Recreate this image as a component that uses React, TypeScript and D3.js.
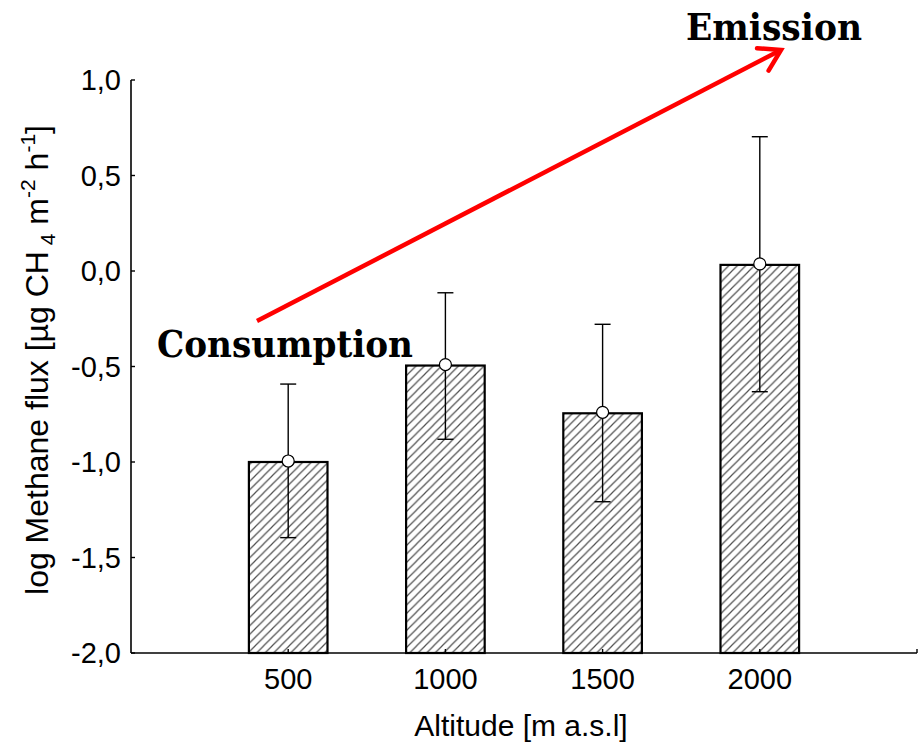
import React from "react";
import * as d3 from "d3";

const altitudes = [500, 1000, 1500, 2000];
const xTicks = [500, 1000, 1500, 2000, 2500];
const means = [-1.0, -0.495, -0.745, 0.032];
const errUpper = [-0.592, -0.114, -0.279, 0.703];
const errLower = [-1.396, -0.881, -1.208, -0.632];
const yTicks = [1.0, 0.5, 0.0, -0.5, -1.0, -1.5, -2.0];
const arrowFrom = { x: 257, y: 321 };
const arrowTo = { x: 781, y: 50 };

const W = 922;
const H = 745;
const x0 = 131;
const x1 = 917;
const yTop = 80;
const yBot = 653;

export default function App() {
  const x = d3.scaleLinear().domain([0, 2500]).range([x0, x1]);
  const y = d3.scaleLinear().domain([-2, 1]).range([yBot, yTop]);
  const barW = x(250) - x(0);
  const fmt = (v: number) => v.toFixed(1).replace(".", ",").replace("-0,0", "0,0");
  const font = "Arial, 'Liberation Sans', sans-serif";

  const ang = Math.atan2(arrowTo.y - arrowFrom.y, arrowTo.x - arrowFrom.x);
  const headLen = 24;
  const headAng = 0.55;
  const h1 = {
    x: arrowTo.x - headLen * Math.cos(ang - headAng),
    y: arrowTo.y - headLen * Math.sin(ang - headAng),
  };
  const h2 = {
    x: arrowTo.x - headLen * Math.cos(ang + headAng),
    y: arrowTo.y - headLen * Math.sin(ang + headAng),
  };

  return (
    <svg
      width={W}
      height={H}
      style={{ position: "absolute", left: 0, top: 0, background: "#fff" }}
    >
      <defs>
        <pattern id="hatch" patternUnits="userSpaceOnUse" width={8.5} height={8.5}>
          <rect width={8.5} height={8.5} fill="#fff" />
          <path
            d="M-2,2 L2,-2 M0,8.5 L8.5,0 M6.5,10.5 L10.5,6.5"
            stroke="#505050"
            strokeWidth={1.2}
          />
        </pattern>
      </defs>

      {altitudes.map((a, i) => (
        <rect
          key={"b" + a}
          x={x(a) - barW / 2}
          y={y(means[i])}
          width={barW}
          height={y(-2) - y(means[i])}
          fill="url(#hatch)"
          stroke="#000"
          strokeWidth={2.2}
        />
      ))}

      {altitudes.map((a, i) => (
        <g key={"e" + a} stroke="#000" strokeWidth={1.4}>
          <line x1={x(a)} x2={x(a)} y1={y(errUpper[i])} y2={y(errLower[i])} />
          <line x1={x(a) - 8} x2={x(a) + 8} y1={y(errUpper[i])} y2={y(errUpper[i])} />
          <line x1={x(a) - 8} x2={x(a) + 8} y1={y(errLower[i])} y2={y(errLower[i])} />
        </g>
      ))}
      {altitudes.map((a, i) => (
        <circle
          key={"c" + a}
          cx={x(a)}
          cy={y(means[i]) - 1}
          r={6}
          fill="#fff"
          stroke="#000"
          strokeWidth={1.2}
        />
      ))}

      <line x1={x0} x2={x0} y1={yTop} y2={yBot} stroke="#000" strokeWidth={1.6} />
      <line x1={x0} x2={x1} y1={yBot} y2={yBot} stroke="#000" strokeWidth={1.6} />
      {yTicks.map((t) => (
        <g key={"yt" + t}>
          <line x1={x0} x2={x0 + 4} y1={y(t)} y2={y(t)} stroke="#000" strokeWidth={1.4} />
          <text
            x={121}
            y={y(t)}
            dy="0.35em"
            textAnchor="end"
            fontFamily={font}
            fontSize={29}
            fill="#000"
          >
            {fmt(t)}
          </text>
        </g>
      ))}
      {xTicks.map((t) => (
        <line
          key={"xt" + t}
          x1={x(t)}
          x2={x(t)}
          y1={yBot}
          y2={yBot - 4}
          stroke="#000"
          strokeWidth={1.4}
        />
      ))}
      {altitudes.map((a) => (
        <text
          key={"xl" + a}
          x={x(a)}
          y={689}
          textAnchor="middle"
          fontFamily={font}
          fontSize={29}
          fill="#000"
        >
          {a}
        </text>
      ))}

      <text
        x={(x0 + x1) / 2 - 3}
        y={736}
        textAnchor="middle"
        fontFamily={font}
        fontSize={30}
        fill="#000"
      >
        Altitude [m a.s.l]
      </text>
      <text
        transform="translate(48,360) rotate(-90)"
        textAnchor="middle"
        fontFamily={font}
        fontSize={32}
        fill="#000"
      >
        log Methane flux [µg CH
        <tspan fontSize={21} dy={7}> 4</tspan>
        <tspan dy={-7}> m</tspan>
        <tspan fontSize={21} dy={-13}>-2</tspan>
        <tspan dy={13}> h</tspan>
        <tspan fontSize={21} dy={-13}>-1</tspan>
        <tspan dy={13}>]</tspan>
      </text>

      <g stroke="#ff0000" strokeWidth={4.5} strokeLinecap="round" fill="none">
        <line x1={arrowFrom.x} y1={arrowFrom.y} x2={arrowTo.x} y2={arrowTo.y} strokeLinecap="butt" />
        <polyline
          points={`${h1.x},${h1.y} ${arrowTo.x},${arrowTo.y} ${h2.x},${h2.y}`}
          strokeLinejoin="miter"
        />
      </g>
      <text
        x={686}
        y={40}
        fontFamily="'DejaVu Serif', serif"
        fontWeight="bold"
        fontSize={37}
        textLength={176}
        lengthAdjust="spacingAndGlyphs"
        fill="#000"
      >
        Emission
      </text>
      <text
        x={157}
        y={357}
        fontFamily="'DejaVu Serif', serif"
        fontWeight="bold"
        fontSize={37}
        textLength={256}
        lengthAdjust="spacingAndGlyphs"
        fill="#000"
      >
        Consumption
      </text>
    </svg>
  );
}
